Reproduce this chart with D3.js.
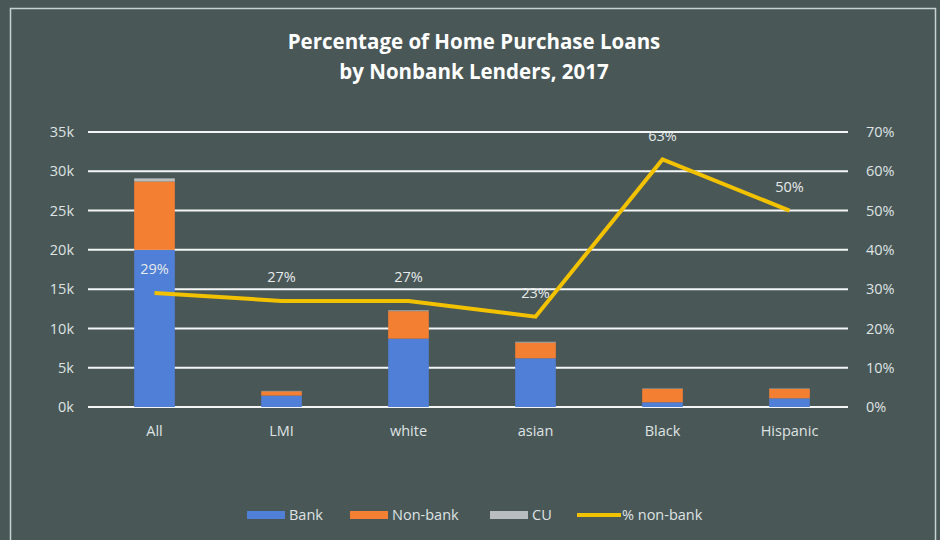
<!DOCTYPE html>
<html>
<head>
<meta charset="utf-8">
<script src="https://cdnjs.cloudflare.com/ajax/libs/d3/7.8.5/d3.min.js"></script>
<style>
  html, body { margin: 0; padding: 0; background: #495757; }
  svg { display: block; }
  text { font-family: "Open Sans", "Noto Sans", sans-serif; }
</style>
</head>
<body>
<svg id="chart" width="940" height="540"></svg>
<script>
// Home purchase loans by lender type (thousands of loans) and non-bank share
const categories = ["All", "LMI", "white", "asian", "Black", "Hispanic"];
const bank = [20.0, 1.45, 8.7, 6.2, 0.6, 1.1];
const nonBank = [8.7, 0.55, 3.5, 2.0, 1.7, 1.2];
const cu = [0.4, 0.05, 0.1, 0.1, 0.05, 0.05];
const pctNonBank = [29, 27, 27, 23, 63, 50];
const leftTicks = [0, 5, 10, 15, 20, 25, 30, 35];
const rightTicks = [0, 10, 20, 30, 40, 50, 60, 70];
const seriesNames = ["Bank", "Non-bank", "CU"];
const seriesColors = ["#4f7fd6", "#f27f32", "#b9bdbd"];
const lineColor = "#f2c200";

const svg = d3.select("#chart");
const W = 940, H = 540;
const plot = { left: 91, right: 853, top: 132, bottom: 407 };

// frame
svg.append("rect").attr("x", 0).attr("y", 0).attr("width", W).attr("height", H).attr("fill", "#495757");
svg.append("rect").attr("x", 10.5).attr("y", 8.5).attr("width", 925).attr("height", 545)
  .attr("fill", "none").attr("stroke", "#c9d2d2").attr("stroke-width", 1.5);

// title
const title = svg.append("text").attr("text-anchor", "middle").attr("fill", "#ffffff")
  .attr("font-size", 20.5).attr("font-weight", 700);
title.append("tspan").attr("x", 474).attr("y", 49).text("Percentage of Home Purchase Loans");
title.append("tspan").attr("x", 474).attr("y", 79).text("by Nonbank Lenders, 2017");

const x = d3.scaleBand().domain(categories).range([plot.left, plot.right]).paddingInner(0.68).paddingOuter(0.34);
const y = d3.scaleLinear().domain([0, 35]).range([plot.bottom, plot.top]);
const y2 = d3.scaleLinear().domain([0, 70]).range([plot.bottom, plot.top]);

// gridlines
svg.append("g").selectAll("line").data(leftTicks).join("line")
  .attr("x1", 88).attr("x2", 848)
  .attr("y1", d => y(d)).attr("y2", d => y(d))
  .attr("stroke", "#f4f6f6").attr("stroke-width", 2);

// left axis
const yAxis = svg.append("g").attr("transform", `translate(${74},0)`)
  .call(d3.axisLeft(y).tickValues(leftTicks).tickSize(0).tickPadding(0).tickFormat(d => d + "k"));
yAxis.select(".domain").remove();
yAxis.selectAll("text").attr("fill", "#dfe3e3").attr("font-size", 14.5).attr("font-family", "'Open Sans', sans-serif");

// right axis
const y2Axis = svg.append("g").attr("transform", `translate(${866},0)`)
  .call(d3.axisRight(y2).tickValues(rightTicks).tickSize(0).tickPadding(0).tickFormat(d => d + "%"));
y2Axis.select(".domain").remove();
y2Axis.selectAll("text").attr("fill", "#dfe3e3").attr("font-size", 14.5).attr("font-family", "'Open Sans', sans-serif");

// category axis
const xAxis = svg.append("g").attr("transform", `translate(0,${plot.bottom + 19})`)
  .call(d3.axisBottom(x).tickSize(0).tickPadding(0));
xAxis.select(".domain").remove();
xAxis.selectAll("text").attr("fill", "#dfe3e3").attr("font-size", 14.5).attr("font-family", "'Open Sans', sans-serif");

// stacked bars
const rows = categories.map((c, i) => ({ cat: c, Bank: bank[i], "Non-bank": nonBank[i], CU: cu[i] }));
const stack = d3.stack().keys(seriesNames)(rows);
const color = d3.scaleOrdinal().domain(seriesNames).range(seriesColors);
svg.append("g").selectAll("g").data(stack).join("g")
  .attr("fill", d => color(d.key))
  .selectAll("rect").data(d => d).join("rect")
  .attr("x", d => x(d.data.cat))
  .attr("width", x.bandwidth())
  .attr("y", d => y(d[1]))
  .attr("height", d => y(d[0]) - y(d[1]));

// non-bank share line
const line = d3.line().x((d, i) => x(categories[i]) + x.bandwidth() / 2).y(d => y2(d));
svg.append("path").datum(pctNonBank).attr("d", line)
  .attr("fill", "none").attr("stroke", lineColor).attr("stroke-width", 4).attr("stroke-linejoin", "miter");

svg.append("g").selectAll("text").data(pctNonBank).join("text")
  .attr("x", (d, i) => x(categories[i]) + x.bandwidth() / 2)
  .attr("y", d => y2(d) - 19)
  .attr("text-anchor", "middle").attr("fill", "#e6eaea").attr("font-size", 14.5)
  .text(d => d + "%");

// legend
const legendItems = [
  { name: "Bank", color: seriesColors[0], type: "rect", x: 247 },
  { name: "Non-bank", color: seriesColors[1], type: "rect", x: 350 },
  { name: "CU", color: seriesColors[2], type: "rect", x: 490 },
  { name: "% non-bank", color: lineColor, type: "line", x: 577 }
];
const lg = svg.append("g").selectAll("g").data(legendItems).join("g")
  .attr("transform", d => `translate(${d.x},515)`);
lg.filter(d => d.type === "rect").append("rect")
  .attr("x", 0).attr("y", -4).attr("width", 38).attr("height", 8).attr("fill", d => d.color);
lg.filter(d => d.type === "line").append("line")
  .attr("x1", 0).attr("x2", 44).attr("y1", 0).attr("y2", 0)
  .attr("stroke", d => d.color).attr("stroke-width", 4);
lg.append("text").attr("x", d => d.type === "line" ? 45 : 42).attr("y", 5)
  .attr("fill", "#dfe3e3").attr("font-size", 14.5).text(d => d.name);
</script>
</body>
</html>
